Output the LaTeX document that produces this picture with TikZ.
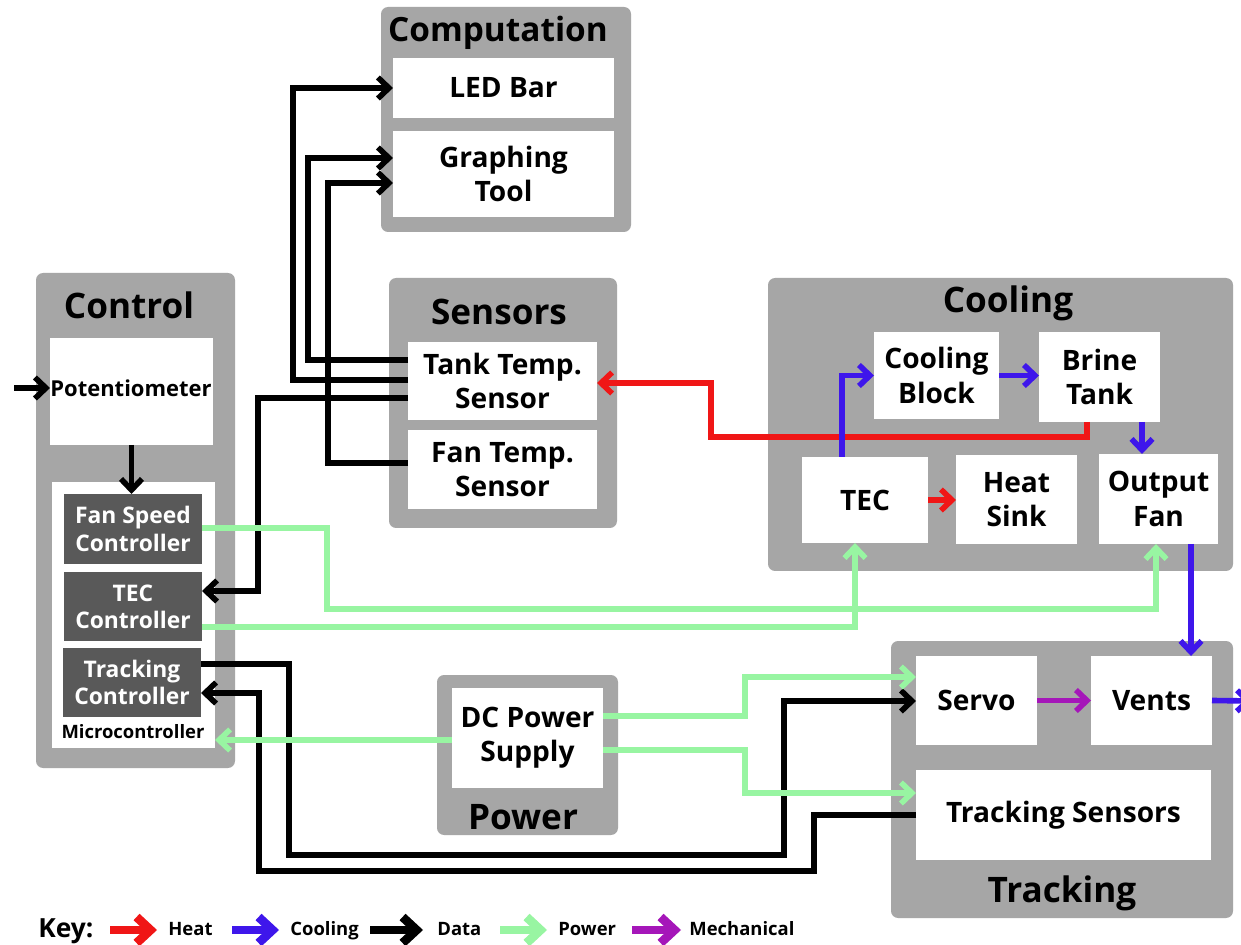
\documentclass[tikz,border=0pt]{standalone}
\usepackage{fontspec}
\setmainfont{Open Sans}
\usetikzlibrary{arrows.meta}
\definecolor{grp}{RGB}{166,166,166}
\definecolor{darkbox}{RGB}{89,89,89}
\definecolor{heatc}{RGB}{240,22,22}
\definecolor{coolc}{RGB}{62,22,235}
\definecolor{powc}{RGB}{152,245,162}
\definecolor{mechc}{RGB}{165,22,185}
\begin{document}
\begin{tikzpicture}[x=0.02cm,y=-0.02cm,
  span/.style args={#1/#2/#3/#4}{minimum width={(#3-#1)*0.02cm}, minimum height={(#4-#2)*0.02cm}, at={({(#1+#3)/2},{(#2+#4)/2})}, inner sep=0pt, outer sep=0pt},
  group/.style={fill=grp, rounded corners=4pt, draw=none, span=#1},
  wbox/.style={fill=white, align=center, font=\bfseries\fontsize{16}{19.5}\selectfont, span=#1},
  dbox/.style={fill=darkbox, text=white, align=center, font=\bfseries\fontsize{13}{15.5}\selectfont, span=#1},
  grouptitle/.style={font=\bfseries\fontsize{20}{24}\selectfont, inner sep=0pt},
  conn/.style={line width=3.2pt, -{Straight Barb[length=0.22cm,width=0.42cm]}},
  data/.style={conn, draw=black},
  heat/.style={conn, draw=heatc},
  cool/.style={conn, draw=coolc},
  powr/.style={conn, draw=powc},
  mech/.style={conn, draw=mechc},
  keyarrow/.style={line width=5pt, -{Straight Barb[length=0.28cm,width=0.52cm]}},
  keytext/.style={font=\bfseries\fontsize{10.5}{12}\selectfont, inner sep=0pt, anchor=base west},
]
\useasboundingbox (0,0) rectangle (1241,945);
\fill[white] (0,0) rectangle (1241,945);

% ---------- Computation
\node[group={381/7/631/232}] (gComp) {};
\node[grouptitle, font=\bfseries\fontsize{19}{24}\selectfont] (tComp) at (498,33) {Computation};
\node[wbox={393/58/614/118}] (led) {LED Bar};
\node[wbox={393/131/614/217}] (graph) {Graphing\\Tool};

% ---------- Sensors
\node[group={389/278/617/528}] (gSens) {};
\node[grouptitle] (tSens) at (499,312) {Sensors};
\node[wbox={408/342/597/420}] (tank) {Tank Temp.\\Sensor};
\node[wbox={408/430/597/509}] (fan) {Fan Temp.\\Sensor};

% ---------- Control
\node[group={36/273/235/768}] (gCtrl) {};
\node[grouptitle] (tCtrl) at (129,305) {Control};
\node[wbox={50/338/213/445}] (pot) {};
\node[font=\bfseries\fontsize{12.5}{15}\selectfont, inner sep=0pt] (potlabel) at (131,388) {Potentiometer};
\node[wbox={52/482/215/748}] (micro) {};
\node[dbox={64/494/202/564}] (fsc) {Fan Speed\\Controller};
\node[dbox={64/572/202/641}] (tecc) {TEC\\Controller};
\node[dbox={63/648/201/717}] (trc) {Tracking\\Controller};
\node[font=\bfseries\fontsize{10.5}{12}\selectfont, inner sep=0pt] (microlabel) at (133,732) {Microcontroller};

% ---------- Cooling
\node[group={768/278/1233/571}] (gCool) {};
\node[grouptitle] (tCool) at (1008,303) {Cooling};
\node[wbox={874/332/999/419}] (coolblk) {Cooling\\Block};
\node[wbox={1039/332/1160/422}] (brine) {Brine\\Tank};
\node[wbox={802/457/928/543}] (tec) {TEC};
\node[wbox={956/455/1077/544}] (sink) {Heat\\Sink};
\node[wbox={1099/454/1218/544}] (ofan) {Output\\Fan};

% ---------- Power
\node[group={437/675/618/835}] (gPow) {};
\node[grouptitle] (tPow) at (523,817) {Power};
\node[wbox={452/688/603/788}] (dcps) {DC Power\\Supply};

% ---------- Tracking
\node[group={891/641/1233/918}] (gTrk) {};
\node[grouptitle] (tTrk) at (1062,893) {Tracking};
\node[wbox={916/656/1037/745}] (servo) {Servo};
\node[wbox={1091/656/1212/745}] (vents) {Vents};
\node[wbox={916/770/1211/860}] (tsens) {Tracking Sensors};

% ---------- free ends
\coordinate (potin) at (14,388);
\coordinate (ventout) at (1252,701);

% ---------- Data connectors
\draw[data] (tank.west |- 0,380) -| (293,88) -- (led.west);
\draw[data] (tank.west |- 0,360) -| (308,158) -- (graph.west |- 0,158);
\draw[data] (fan.west |- 0,463) -| (328,183) -- (graph.west |- 0,183);
\draw[data] (tank.west |- 0,398) -| (258,591) -- (tecc.east |- 0,591);
\draw[data] (trc.east |- 0,664) -| (289,855) -| (784,701) -- (servo.west |- 0,701);
\draw[data] (tsens.west |- 0,815) -| (814,871) -| (259,693) -- (trc.east |- 0,693);
\draw[data] (potin) -- (pot.west |- 0,388);
\draw[data] (pot.south) -- (pot.south |- fsc.north);

% ---------- Heat connectors
\draw[heat] (brine.south -| 1087,0) |- (711,437) |- (tank.east |- 0,383);
\draw[heat] (tec.east) -- (sink.west |- tec.east);

% ---------- Cooling connectors
\draw[cool] (tec.north -| 842,0) |- (coolblk.west);
\draw[cool] (coolblk.east) -- (brine.west |- coolblk.east);
\draw[cool] (brine.south -| 1142,0) -- (ofan.north -| 1142,0);
\draw[cool] (ofan.south -| 1191,0) -- (vents.north -| 1191,0);
\draw[cool] (vents.east) -- (ventout);

% ---------- Power connectors
\draw[powr] (fsc.east |- 0,528) -| (327,609) -| (ofan.south -| 1156,0);
\draw[powr] (tecc.east |- 0,627) -| (tec.south -| 855,0);
\draw[powr] (dcps.west |- 0,740) -- (micro.east |- 0,740);
\draw[powr] (dcps.east |- 0,716) -| (745,677) -- (servo.west |- 0,677);
\draw[powr] (dcps.east |- 0,750) -| (745,793) -- (tsens.west |- 0,793);

% ---------- Mechanical connector
\draw[mech] (servo.east) -- (vents.west);

% ---------- Key
\node[font=\bfseries\fontsize{15}{18}\selectfont, inner sep=0pt, anchor=base west] (keylabel) at (38,937) {Key:};
\coordinate (kh1) at (110,930); \coordinate (kh2) at (157,930);
\node[keytext] (kheat) at (168,935) {Heat};
\coordinate (kc1) at (232,930); \coordinate (kc2) at (279,930);
\node[keytext] (kcool) at (290,935) {Cooling};
\coordinate (kd1) at (370,930); \coordinate (kd2) at (423,930);
\node[keytext] (kdata) at (437,935) {Data};
\coordinate (kp1) at (500,930); \coordinate (kp2) at (547,930);
\node[keytext] (kpow) at (558,935) {Power};
\coordinate (km1) at (632,930); \coordinate (km2) at (681,930);
\node[keytext] (kmech) at (689,935) {Mechanical};
\draw[keyarrow, draw=heatc] (kh1) -- (kh2);
\draw[keyarrow, draw=coolc] (kc1) -- (kc2);
\draw[keyarrow, draw=black] (kd1) -- (kd2);
\draw[keyarrow, draw=powc] (kp1) -- (kp2);
\draw[keyarrow, draw=mechc] (km1) -- (km2);
\end{tikzpicture}
\end{document}
